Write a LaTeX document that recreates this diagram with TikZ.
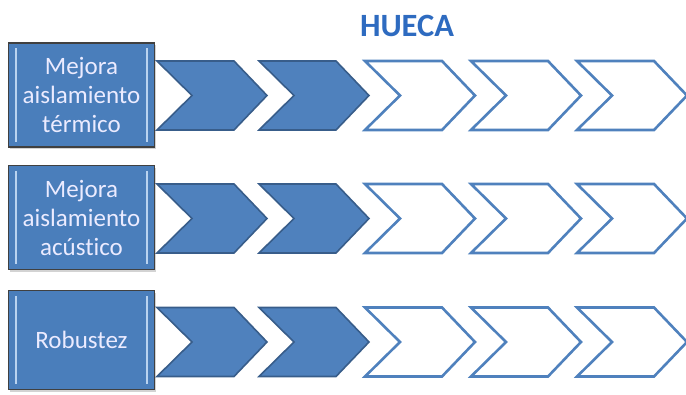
\documentclass[tikz,border=0pt]{standalone}
\usepackage{fontspec}
\setmainfont{Carlito}[Ligatures={NoCommon,NoRequired,NoContextual}]
\usetikzlibrary{shadows}
\definecolor{accblue}{HTML}{4F81BD}
\definecolor{accdark}{HTML}{385D8A}
\definecolor{boxfill}{HTML}{4A7EBB}
\definecolor{bevel}{HTML}{B9D3F0}
\definecolor{titleblue}{HTML}{2E6BC0}
\tikzset{
  labelbox/.style={draw=black!75, line width=1.2pt, fill=boxfill, minimum width=146pt, minimum height=104pt,
     inner sep=0pt, align=center, text=white!92!blue, font=\fontsize{25}{29}\selectfont,
     drop shadow={shadow xshift=1.5pt, shadow yshift=-2pt, opacity=0.35}},
  chevfull/.style={fill=accblue, draw=accdark, line width=1.6pt, line join=miter},
  chevempty/.style={fill=white, draw=accblue, line width=2.6pt, line join=miter},
  bevelline/.style={draw=bevel, line width=1.4pt}
}
\newcommand{\chevron}[4]{% style, x0, yc, name
  \path[#1] (#2,#3-34.5) -- ++(77,0) -- ++(33,34.5) -- ++(-33,34.5) -- ++(-77,0) -- ++(35,-34.5) -- cycle;
  \coordinate (#4) at (#2+55,#3);
}
\begin{document}
\begin{tikzpicture}[x=1pt,y=-1pt]
\useasboundingbox (0,0) rectangle (686,394);
\node[font=\fontsize{32.5}{32.5}\selectfont\bfseries, text=titleblue] (title) at (407,26) {HUECA};
% boxes
\node[labelbox] (b1) at (81.5,95) {Mejora\\aislamiento\\térmico};
\node[labelbox] (b2) at (81.5,217.5) {Mejora\\aislamiento\\acústico};
\node[labelbox, minimum height=99pt] (b3) at (81.5,340) {Robustez};
\foreach \b in {b1,b2,b3}{
  \draw[bevelline] ([xshift=8pt,yshift=-6pt]\b.north west) -- ([xshift=8pt,yshift=6pt]\b.south west);
  \draw[bevelline] ([xshift=-8pt,yshift=-6pt]\b.north east) -- ([xshift=-8pt,yshift=6pt]\b.south east);
}
% chevrons
\foreach \yc/\r in {95.5/1,218.5/2,342/3}{
  \chevron{chevfull}{157}{\yc}{c\r a}
  \chevron{chevfull}{259}{\yc}{c\r b}
  \chevron{chevempty}{365}{\yc}{c\r c}
  \chevron{chevempty}{471}{\yc}{c\r d}
  \chevron{chevempty}{577}{\yc}{c\r e}
}
\end{tikzpicture}
\end{document}
